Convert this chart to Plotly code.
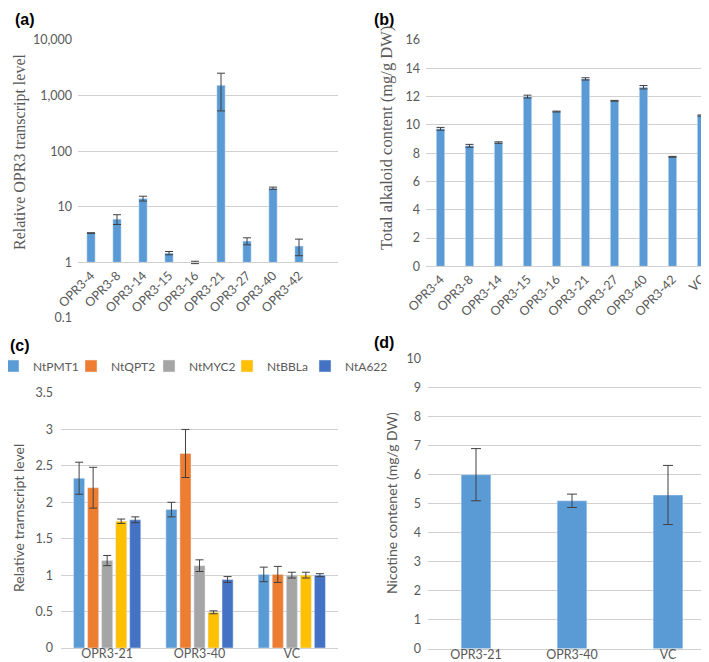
import plotly.graph_objects as go

W, H = 709, 662

# ---------------- data ----------------
a_cats = ["OPR3-4", "OPR3-8", "OPR3-14", "OPR3-15", "OPR3-16",
          "OPR3-21", "OPR3-27", "OPR3-40", "OPR3-42"]
a_vals = [3.37, 6.0, 14.1, 1.47, 1.0, 1530, 2.42, 21.6, 1.97]
a_err = [0.05, 1.2, 1.4, 0.1, 0.05, 1000, 0.35, 1.0, 0.65]
a_tickvals = [0.1, 1, 10, 100, 1000, 10000]
a_ticktext = ["0.1", "1", "10", "100", "1,000", "10,000"]

b_cats = ["OPR3-4", "OPR3-8", "OPR3-14", "OPR3-15", "OPR3-16",
          "OPR3-21", "OPR3-27", "OPR3-40", "OPR3-42", "VC"]
b_vals = [9.72, 8.52, 8.75, 12.0, 10.94, 13.25, 11.7, 12.66, 7.74, 10.66]
b_err = [0.1, 0.1, 0.05, 0.1, 0.03, 0.08, 0.03, 0.12, 0.03, 0.04]

c_cats = ["OPR3-21", "OPR3-40", "VC"]
c_genes = ["NtPMT1", "NtQPT2", "NtMYC2", "NtBBLa", "NtA622"]
pmt1_vals = [2.33, 1.90, 1.01]
pmt1_err = [0.22, 0.10, 0.10]
qpt2_vals = [2.20, 2.67, 1.01]
qpt2_err = [0.28, 0.33, 0.11]
myc2_vals = [1.20, 1.13, 1.00]
myc2_err = [0.07, 0.08, 0.04]
bbla_vals = [1.74, 0.49, 1.00]
bbla_err = [0.03, 0.02, 0.04]
a622_vals = [1.76, 0.94, 1.00]
a622_err = [0.04, 0.04, 0.02]

d_cats = ["OPR3-21", "OPR3-40", "VC"]
d_vals = [6.0, 5.1, 5.3]
d_err = [0.9, 0.23, 1.02]

# ---------------- style ----------------
BLUE = "#5B9BD5"
gene_colors = ["#5B9BD5", "#ED7D31", "#A5A5A5", "#FFC000", "#4472C4"]
GRID = "#D0D0D0"
TXT = "#595959"
ERR = "#404040"
SANS = "Lato"
SERIF = "Liberation Serif"


def px_x(p):
    return p / W


def px_y(p):
    return 1 - p / H


fig = go.Figure()

# (a)
fig.add_trace(go.Bar(
    x=a_cats, y=[v - 1 for v in a_vals], base=[1] * len(a_vals),
    marker_color=BLUE, width=0.32, showlegend=False,
    error_y=dict(type="data", array=a_err, color=ERR, thickness=1, width=4),
    xaxis="x", yaxis="y"))

# (b)
fig.add_trace(go.Bar(
    x=b_cats, y=b_vals, marker_color=BLUE, width=0.29, showlegend=False,
    error_y=dict(type="data", array=b_err, color=ERR, thickness=1, width=4),
    xaxis="x2", yaxis="y2"))

# (c)
c_series = [(pmt1_vals, pmt1_err), (qpt2_vals, qpt2_err), (myc2_vals, myc2_err),
            (bbla_vals, bbla_err), (a622_vals, a622_err)]
legend_ids = ["legend", "legend2", "legend3", "legend4", "legend5"]
for name, col, (vals, errs), lid in zip(c_genes, gene_colors, c_series, legend_ids):
    fig.add_trace(go.Bar(
        x=c_cats, y=vals, name=name, marker_color=col, legend=lid,
        error_y=dict(type="data", array=errs, color=ERR, thickness=1, width=4),
        xaxis="x3", yaxis="y3"))

# (d)
fig.add_trace(go.Bar(
    x=d_cats, y=d_vals, marker_color=BLUE, width=0.31, showlegend=False,
    error_y=dict(type="data", array=d_err, color=ERR, thickness=1, width=5),
    xaxis="x4", yaxis="y4"))

tickfont = dict(family=SANS, size=12.5, color=TXT)

ya_dom = [px_y(310), px_y(32)]
a_pos = ya_dom[0] + (0 - (-1)) / 5 * (ya_dom[1] - ya_dom[0])

legend_layout = {}
for i, lid in enumerate(legend_ids):
    legend_layout[lid] = dict(
        orientation="h", x=px_x(-15 + 78 * i), xanchor="left",
        y=px_y(358), yanchor="middle",
        font=dict(family=SANS, size=12, color=TXT),
        bgcolor="rgba(0,0,0,0)")

fig.update_layout(
    width=W, height=H, margin=dict(l=0, r=0, t=0, b=0, autoexpand=False),
    paper_bgcolor="white", plot_bgcolor="white",
    font=dict(family=SANS, color=TXT),
    barmode="group", bargap=0.24, bargroupgap=0.21,
    showlegend=True,
    **legend_layout,
    # (a)
    xaxis=dict(domain=[px_x(70), px_x(330)], anchor="free", position=a_pos,
               range=[-0.5, 9.5], type="category", tickangle=-45, showgrid=False,
               showline=True, linecolor=GRID, linewidth=1, ticks="", tickfont=tickfont,
               automargin=False),
    yaxis=dict(domain=ya_dom, anchor="x", type="log", range=[-1, 4],
               tickvals=a_tickvals, ticktext=a_ticktext, gridcolor=GRID, gridwidth=1,
               showline=False, zeroline=False, ticks="", tickfont=tickfont,
               ticklabelstandoff=5, automargin=False),
    # (b)
    xaxis2=dict(domain=[px_x(418), px_x(708)], anchor="y2", range=[-0.5, 9.5],
                type="category", tickangle=-45, showgrid=False, showline=True,
                linecolor=GRID, ticks="", tickfont=tickfont, automargin=False),
    yaxis2=dict(domain=[px_y(258.3), px_y(32)], anchor="x2", range=[0, 16], dtick=2,
                gridcolor=GRID, zeroline=False, showline=False, ticks="",
                tickfont=tickfont, ticklabelstandoff=5, automargin=False),
    # (c)
    xaxis3=dict(domain=[px_x(53), px_x(330)], anchor="y3", type="category",
                showgrid=False, showline=True, linecolor=GRID, ticks="",
                tickfont=tickfont, ticklabelstandoff=-6, automargin=False),
    yaxis3=dict(domain=[px_y(640), px_y(385)], anchor="x3", range=[0, 3.5], dtick=0.5,
                gridcolor=GRID, zeroline=False, showline=False, ticks="",
                tickfont=tickfont, ticklabelstandoff=7, automargin=False),
    # (d)
    xaxis4=dict(domain=[px_x(420), px_x(708)], anchor="y4", type="category",
                showgrid=False, showline=True, linecolor=GRID, ticks="",
                tickfont=tickfont, ticklabelstandoff=-6, automargin=False),
    yaxis4=dict(domain=[px_y(640.7), px_y(350.7)], anchor="x4", range=[0, 10], dtick=1,
                gridcolor=GRID, zeroline=False, showline=False, ticks="",
                tickfont=tickfont, ticklabelstandoff=6, automargin=False),
)

ann = []
# panel labels
for lab, x, y in [("(a)", 17, 12), ("(b)", 376, 11), ("(c)", 12, 337), ("(d)", 376, 335)]:
    ann.append(dict(text="<b>" + lab + "</b>", x=px_x(x), y=px_y(y), xref="paper", yref="paper",
                    showarrow=False, xanchor="center", yanchor="middle",
                    font=dict(family="Liberation Sans", size=16, color="black")))
# axis titles
for txt, x, y, fam, sz in [
        ("Relative OPR3 transcript level", 12, 144, SERIF, 16),
        ("Total alkaloid content (mg/g DW)", 378, 130, SERIF, 16.5),
        ("Relative trarnscript level", 10, 510, SANS, 14),
        ("Nicotine contenet (mg/g DW)", 383, 495, SANS, 14)]:
    ann.append(dict(text=txt, x=px_x(x), y=px_y(y), xref="paper", yref="paper",
                    showarrow=False, textangle=-90, xanchor="center", yanchor="middle",
                    font=dict(family=fam, size=sz, color=TXT)))
fig.update_layout(annotations=ann)

fig.write_html("out.html")
